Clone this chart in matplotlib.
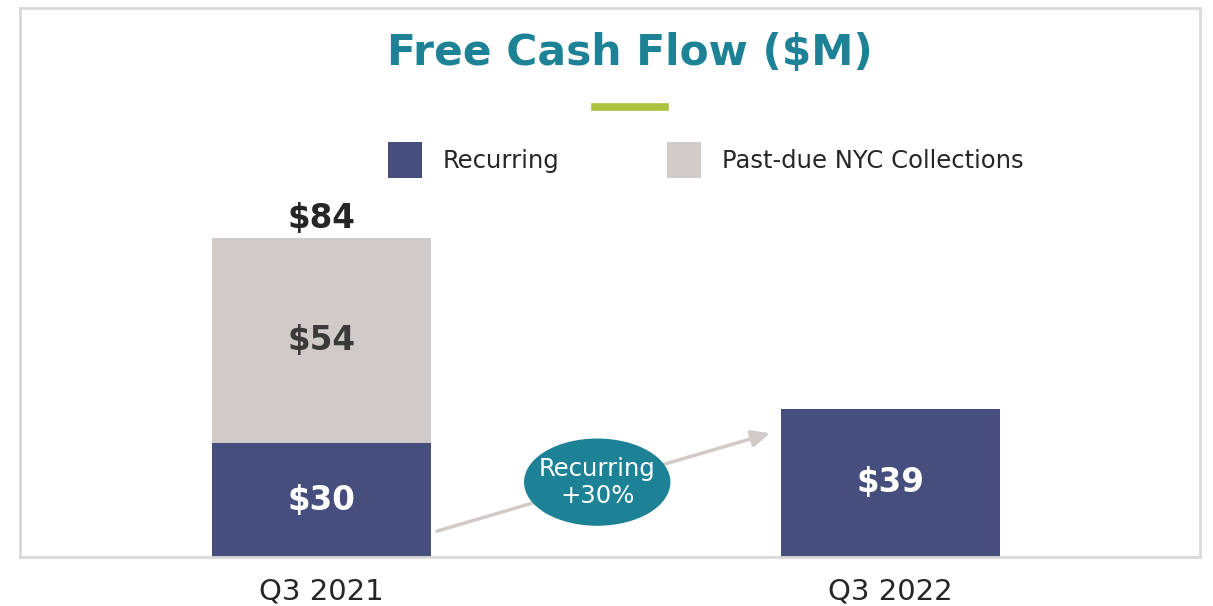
import numpy as np
import matplotlib.pyplot as plt
from matplotlib.patches import Ellipse

periods = ["Q3 2021", "Q3 2022"]
recurring = [30, 39]
past_due = [54, 0]
totals = [84, 39]

NAVY = "#454e7c"
GREY = "#d0cbc8"
TEAL = "#1e8296"
GREEN = "#a9c23f"

fig = plt.figure(figsize=(12.13, 6.06), dpi=100)
ax = fig.add_axes([20 / 1213, 49 / 606, 1180 / 1213, 549 / 606])

x = np.arange(len(periods))
w = 0.385
b1 = ax.bar(x, recurring, w, color=NAVY, label="Recurring", zorder=2)
b2 = ax.bar(x, past_due, w, bottom=recurring, color=GREY,
            label="Past-due NYC Collections", zorder=2)

ax.set_xlim(-0.53, 1.545)
ax.set_ylim(0, 144.5)
ax.set_yticks([])
ax.set_xticks(x)
ax.set_xticklabels(periods, fontsize=21, color="#262626")
ax.tick_params(axis="x", length=0, pad=15)
for s in ax.spines.values():
    s.set_color("#d9d9d9")
    s.set_linewidth(2)

# value labels
ax.text(x[0], totals[0] + 0.8, "$%d" % totals[0], ha="center", va="bottom",
        fontsize=23.5, fontweight="bold", color="#262626")
ax.text(x[0], recurring[0] + past_due[0] / 2, "$%d" % past_due[0], ha="center",
        va="center", fontsize=23.5, fontweight="bold", color="#3a3a3a")
for i in range(len(periods)):
    ax.text(x[i], recurring[i] / 2, "$%d" % recurring[i],
            ha="center", va="center", fontsize=23.5, fontweight="bold", color="white")

# growth arrow and bubble
ax.annotate("", xy=(0.789, 32.6), xytext=(0.203, 6.8),
            arrowprops=dict(arrowstyle="-|>,head_length=1.1,head_width=0.5",
                            color=GREY, lw=2.5, shrinkA=0, shrinkB=0), zorder=3)
ax.add_patch(Ellipse((0.485, 19.7), 0.255, 22.6, color=TEAL, zorder=4))
ax.text(0.485, 19.7, "Recurring\n+30%", ha="center", va="center",
        fontsize=17.5, color="white", zorder=5, linespacing=1.15)

# title and accent line
fig.text(630 / 1213, 1 - 53 / 606, "Free Cash Flow ($M)", ha="center", va="center",
         fontsize=30.5, fontweight="bold", color=TEAL)
fig.add_artist(plt.Line2D([595 / 1213, 665 / 1213], [1 - 107 / 606] * 2,
                          color=GREEN, lw=5.5))

fig.legend(handles=[b1, b2], loc="center left",
           bbox_to_anchor=(388 / 1213, 1 - 160 / 606), ncol=2, frameon=False,
           fontsize=17.5, handlelength=1.4, handleheight=1.84, handletextpad=0.86,
           columnspacing=4.4, borderpad=0, borderaxespad=0, labelcolor="#262626")

fig.savefig("out.png", dpi=100)
